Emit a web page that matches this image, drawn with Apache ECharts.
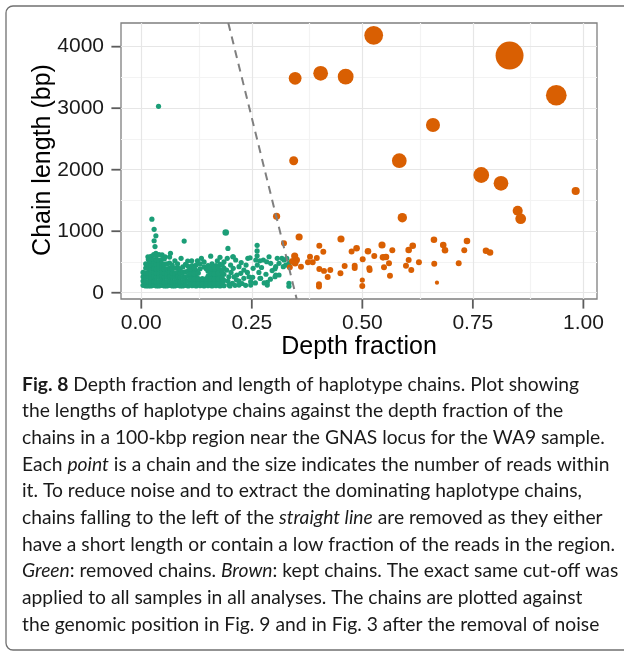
<!DOCTYPE html>
<html>
<head>
<meta charset="utf-8">
<script src="https://cdn.jsdelivr.net/npm/echarts@6/dist/echarts.min.js"></script>
<style>
  html, body { margin: 0; padding: 0; background: #ffffff; }
  #chart { width: 624px; height: 651px; }
</style>
</head>
<body>
<div id="chart"></div>
<script>
// Axis ticks
const xTicks = [0, 0.25, 0.5, 0.75, 1];
const yTicks = [0, 1000, 2000, 3000, 4000];
const xMinorGrid = [0.125, 0.375, 0.625, 0.875];
const yMinorGrid = [500, 1500, 2500, 3500];

// Cut-off line: length = slope * (depthFraction - intercept)
const cutoffIntercept = 0.348;
const cutoffSlope = -29000;

// Removed chains: [depth fraction, chain length (bp), reads]
const removedChains = [
  [0.039,3030,2],[0.024,1195,2],[0.029,1030,2],[0.033,925,2],[0.029,845,2],[0.031,750,2],
  [0.097,840,2],[0.191,980,4],[0.196,720,2],[0.262,770,2],[0.262,680,2],
  [0.015,585,2],[0.033,640,2],[0.047,615,2],[0.054,585,2],[0.066,640,2],[0.090,560,2],
  [0.105,515,2],[0.136,560,2],[0.157,595,2],[0.114,520,2],[0.127,520,2],[0.172,520,2],
  [0.178,575,2],[0.207,585,2],
  [0.004,120,2],[0.004,190,2],[0.004,260,2],[0.004,330,2],
  [0.010,110,2],[0.010,180,2],[0.010,250,2],[0.010,320,2],[0.010,400,2],[0.010,470,2],
  [0.016,110,2],[0.016,180,2],[0.016,250,2],[0.016,320,2],[0.016,390,2],[0.016,460,2],[0.016,540,2],
  [0.022,110,2],[0.022,170,2],[0.022,240,2],[0.022,310,2],[0.022,380,2],[0.022,450,2],[0.022,520,2],[0.022,590,2],
  [0.028,120,2],[0.028,190,2],[0.028,260,2],[0.028,330,2],[0.028,400,2],[0.028,470,2],[0.028,540,2],[0.028,620,2],
  [0.034,110,2],[0.034,180,2],[0.034,250,2],[0.034,320,2],[0.034,390,2],[0.034,460,2],[0.034,530,2],[0.034,600,2],
  [0.040,110,2],[0.040,180,2],[0.040,250,2],[0.040,320,2],[0.040,390,2],[0.040,460,2],[0.040,530,2],[0.040,620,2],
  [0.046,120,2],[0.046,190,2],[0.046,260,2],[0.046,330,2],[0.046,400,2],[0.046,470,2],[0.046,540,2],
  [0.052,110,2],[0.052,180,2],[0.052,250,2],[0.052,320,2],[0.052,390,2],[0.052,460,2],[0.052,550,2],
  [0.058,110,2],[0.058,180,2],[0.058,250,2],[0.058,320,2],[0.058,390,2],[0.058,470,2],
  [0.064,120,2],[0.064,190,2],[0.064,260,2],[0.064,330,2],[0.064,400,2],[0.064,480,2],[0.064,580,2],
  [0.070,110,2],[0.070,180,2],[0.070,250,2],[0.070,320,2],[0.070,390,2],[0.070,450,2],
  [0.076,110,2],[0.076,180,2],[0.076,250,2],[0.076,320,2],[0.076,400,2],[0.076,520,2],
  [0.082,120,2],[0.082,190,2],[0.082,260,2],[0.082,330,2],[0.082,410,2],[0.082,470,2],
  [0.088,110,2],[0.088,180,2],[0.088,250,2],[0.088,320,2],[0.088,390,2],
  [0.094,110,2],[0.094,180,2],[0.094,250,2],[0.094,330,2],[0.094,420,2],
  [0.100,120,2],[0.100,190,2],[0.100,260,2],[0.100,340,2],[0.100,460,2],
  [0.106,110,2],[0.106,190,2],[0.106,270,2],[0.106,350,2],[0.106,430,2],
  [0.115,115,2],[0.115,190,2],[0.115,270,2],[0.115,350,2],[0.115,440,2],
  [0.124,110,2],[0.124,190,2],[0.124,270,2],[0.124,360,2],[0.124,450,2],
  [0.133,115,2],[0.133,190,2],[0.133,390,2],[0.133,470,2],
  [0.142,110,2],[0.142,180,2],[0.142,420,2],[0.142,500,2],
  [0.151,115,2],[0.151,190,2],[0.151,270,2],[0.151,350,2],[0.151,440,2],
  [0.160,110,2],[0.160,190,2],[0.160,270,2],[0.160,350,2],[0.160,470,2],
  [0.169,115,2],[0.169,190,2],[0.169,270,2],[0.169,360,2],[0.169,440,2],
  [0.178,110,2],[0.178,190,2],[0.178,280,2],[0.178,370,2],[0.178,460,2],
  [0.187,115,2],[0.187,200,2],[0.187,300,2],[0.187,400,2],[0.187,500,2],
  [0.110,150,2],[0.110,230,2],[0.110,310,2],[0.110,390,2],[0.120,150,2],[0.120,230,2],
  [0.120,310,2],[0.120,400,2],[0.129,150,2],[0.129,230,2],[0.129,320,2],[0.138,150,2],
  [0.138,230,2],[0.147,150,2],[0.147,230,2],[0.147,390,2],[0.156,150,2],[0.156,230,2],
  [0.156,310,2],[0.156,400,2],[0.165,150,2],[0.165,230,2],[0.165,310,2],[0.165,410,2],
  [0.174,150,2],[0.174,230,2],[0.174,320,2],[0.174,410,2],[0.183,150,2],[0.183,240,2],
  [0.183,340,2],[0.183,450,2],
  [0.1945,559,2],[0.208,585,2],[0.2135,532,2],[0.202,450,2],[0.193,369,2],[0.208,397,2],
  [0.221,423,2],[0.216,288,2],[0.198,260,2],[0.225,315,2],[0.232,369,2],[0.241,559,2],
  [0.246,569,2],[0.237,450,2],[0.253,397,2],[0.2624,450,2],[0.259,532,2],
  [0.276,532,2],[0.2836,504,2],[0.289,585,2],[0.2927,478,2],[0.304,423,2],[0.3076,559,2],
  [0.3115,478,2],[0.3228,532,2],[0.3266,450,2],[0.334,478,2],[0.338,504,2],[0.3212,423,2],
  [0.3115,288,2],[0.304,288,2],[0.285,125,2],[0.285,170,2],[0.270,234,2],[0.2475,125,2],
  [0.2475,180,2],[0.221,125,2],[0.221,190,2],[0.198,125,2],[0.334,153,2],[0.334,105,2],
  [0.2436,260,2],[0.232,234,2],[0.206,153,2],[0.2097,260,2],[0.3024,390,2],[0.3024,260,2],
  [0.2685,234,2],[0.2006,109,2],[0.318,560,2],[0.329,560,2],
  [0.196,190,2],[0.203,330,2],[0.212,120,2],[0.215,210,2],[0.228,150,2],[0.236,120,2],
  [0.240,330,2],[0.252,250,2],[0.258,160,2],[0.266,330,2],[0.272,410,2],[0.278,160,2],
  [0.282,300,2],[0.292,220,2],[0.296,360,2],[0.262,600,2],[0.268,520,2],[0.226,490,2]
];

// Kept chains: [depth fraction, chain length (bp), reads]
const keptChains = [
  [0.5257,4185,50],[0.833,3855,119],[0.9387,3210,62],[0.348,3486,21],[0.4057,3567,29],
  [0.4623,3512,34],[0.6598,2727,26],[0.3447,2146,9],[0.5836,2146,29],[0.769,1914,34],
  [0.8136,1779,29],[0.9826,1654,7],[0.5904,1220,10],[0.8514,1333,12],[0.8582,1203,14],
  [0.306,1242,5],
  [0.3228,803,3],[0.357,906,5],[0.347,597,5],[0.342,510,4],[0.3515,532,4],[0.336,413,3],
  [0.348,480,4],[0.3612,423,3],[0.3816,585,3],[0.377,494,3],[0.3877,494,3],[0.397,564,3],
  [0.4027,764,3],[0.4117,667,3],[0.4027,385,3],[0.4133,355,3],[0.4275,369,3],[0.4216,255,3],
  [0.4019,140,3],[0.4019,100,3],[0.4517,873,5],[0.4505,318,3],[0.460,434,3],[0.4757,670,3],
  [0.487,722,4],[0.4827,440,3],[0.4827,400,3],[0.5008,545,3],[0.4999,206,2],[0.4999,110,3],
  [0.5128,675,4],[0.5157,400,3],[0.5165,370,3],[0.527,597,3],[0.5445,776,5],[0.5467,575,4],
  [0.5535,580,4],[0.549,413,3],[0.5625,277,3],[0.5603,478,3],[0.5678,690,3],[0.6048,694,4],
  [0.614,764,4],[0.6048,532,3],[0.5987,437,3],[0.6107,369,3],[0.628,497,3],[0.662,862,4],
  [0.6627,470,3],[0.6688,163,1],[0.683,776,4],[0.687,690,4],[0.718,480,3],[0.7306,690,3],
  [0.7367,841,4],[0.7797,683,4],[0.7888,655,4]
];

const captionLines = [
  '{b|Fig. 8} Depth fraction and length of haplotype chains. Plot showing',
  'the lengths of haplotype chains against the depth fraction of the',
  'chains in a 100-kbp region near the GNAS locus for the WA9 sample.',
  'Each {i|point} is a chain and the size indicates the number of reads within',
  'it. To reduce noise and to extract the dominating haplotype chains,',
  'chains falling to the left of the {i|straight line} are removed as they either',
  'have a short length or contain a low fraction of the reads in the region.',
  '{i|Green}: removed chains. {i|Brown}: kept chains. The exact same cut-off was',
  'applied to all samples in all analyses. The chains are plotted against',
  'the genomic position in Fig. 9 and in Fig. 3 after the removal of noise'
];

const X_MIN = -0.0459, X_MAX = 1.0308;
const Y_MIN = -102, Y_MAX = 4385;
const TICK_LEN = 9;
const TICK_W = 1.8;

const readsToSize = r => 2.4 * Math.sqrt(r) + 1.8;

// Fit caption font size so the widest line spans the text column
const capFont = 'Lato';
const ctx = document.createElement('canvas').getContext('2d');
ctx.font = '20px ' + capFont;
const probe = 'Each point is a chain and the size indicates the number of reads within';
const capSize = 20 * 590 / ctx.measureText(probe).width;

const gridLine = (axis, v, color) => ({ [axis]: v, lineStyle: { color: color, width: 1.2, type: 'solid' } });
const gridLines = []
  .concat(xMinorGrid.map(v => gridLine('xAxis', v, '#f3f3f3')))
  .concat(yMinorGrid.map(v => gridLine('yAxis', v, '#f3f3f3')))
  .concat(xTicks.map(v => gridLine('xAxis', v, '#e6e6e6')))
  .concat(yTicks.map(v => gridLine('yAxis', v, '#e6e6e6')));

const cutoffAt = y => cutoffIntercept + y / cutoffSlope;

const captionGraphics = captionLines.map((line, i) => ({
  type: 'text',
  left: 22,
  top: 393.3 + 26.67 * i - capSize * 0.95,
  style: {
    text: line,
    font: capSize + 'px ' + capFont,
    fill: '#1a1a1a',
    rich: {
      b: { fontFamily: capFont, fontSize: capSize, fontWeight: 'bold', fill: '#1a1a1a' },
      i: { fontFamily: capFont, fontSize: capSize, fontStyle: 'italic', fill: '#1a1a1a' }
    }
  }
}));

// Outward tick marks drawn as small bar symbols anchored on the panel edges
const tickMarks = (data, isX) => ({
  type: 'scatter', silent: true, clip: false, z: 8,
  data: data,
  symbol: 'rect',
  symbolSize: isX ? [TICK_W, TICK_LEN] : [TICK_LEN, TICK_W],
  symbolOffset: isX ? [0, TICK_LEN / 2 + 0.6] : [-(TICK_LEN / 2 + 0.6), 0],
  itemStyle: { color: '#333333' },
  emphasis: { disabled: true }
});

const chart = echarts.init(document.getElementById('chart'), null, { renderer: 'canvas' });
chart.setOption({
  animation: false,
  backgroundColor: '#ffffff',
  grid: {
    left: 121, right: 27, top: 23, bottom: 352,
    show: true, backgroundColor: '#ffffff', borderColor: '#7f7f7f', borderWidth: 1.3,
    containLabel: false
  },
  xAxis: {
    type: 'value', min: X_MIN, max: X_MAX,
    axisLine: { show: false, onZero: false },
    splitLine: { show: false },
    axisTick: { show: false },
    axisLabel: {
      customValues: xTicks, margin: 14,
      formatter: v => v.toFixed(2),
      fontFamily: 'Liberation Sans', fontSize: 21, color: '#1a1a1a'
    }
  },
  yAxis: {
    type: 'value', min: Y_MIN, max: Y_MAX,
    axisLine: { show: false, onZero: false },
    splitLine: { show: false },
    axisTick: { show: false },
    axisLabel: {
      customValues: yTicks, margin: 17,
      formatter: v => String(v),
      fontFamily: 'Liberation Sans', fontSize: 21, color: '#1a1a1a'
    }
  },
  series: [
    {
      type: 'scatter', data: [], z: 1, silent: true,
      markLine: { silent: true, symbol: 'none', z: 1, label: { show: false }, data: gridLines, animation: false }
    },
    {
      name: 'removed', type: 'scatter', z: 3,
      data: removedChains,
      symbolSize: d => readsToSize(d[2]),
      itemStyle: { color: '#1b9e77', opacity: 1 }
    },
    {
      name: 'kept', type: 'scatter', z: 4,
      data: keptChains,
      symbolSize: d => readsToSize(d[2]),
      itemStyle: { color: '#d95f02', opacity: 1 }
    },
    {
      name: 'cutoff', type: 'line', z: 5, silent: true,
      data: [[cutoffAt(Y_MAX), Y_MAX], [cutoffAt(Y_MIN), Y_MIN]],
      symbol: 'none',
      lineStyle: { color: '#7f7f7f', width: 2, type: [8, 6] }
    },
    tickMarks(xTicks.map(v => [v, Y_MIN]), true),
    tickMarks(yTicks.map(v => [X_MIN, v]), false)
  ],
  graphic: [
    {
      type: 'rect', silent: true,
      shape: { x: 6, y: 6, width: 700, height: 644, r: 7 },
      style: { fill: 'none', stroke: '#707070', lineWidth: 1.3 }
    },
    {
      type: 'text', silent: true,
      x: 359, y: 347.5,
      style: { text: 'Depth fraction', font: '25px "Liberation Sans"', fill: '#000000', align: 'center', verticalAlign: 'middle' }
    },
    {
      type: 'text', silent: true,
      x: 43, y: 160, rotation: Math.PI / 2,
      style: { text: 'Chain length (bp)', font: '25px "Liberation Sans"', fill: '#000000', align: 'center', verticalAlign: 'middle' }
    }
  ].concat(captionGraphics)
});
</script>
</body>
</html>
